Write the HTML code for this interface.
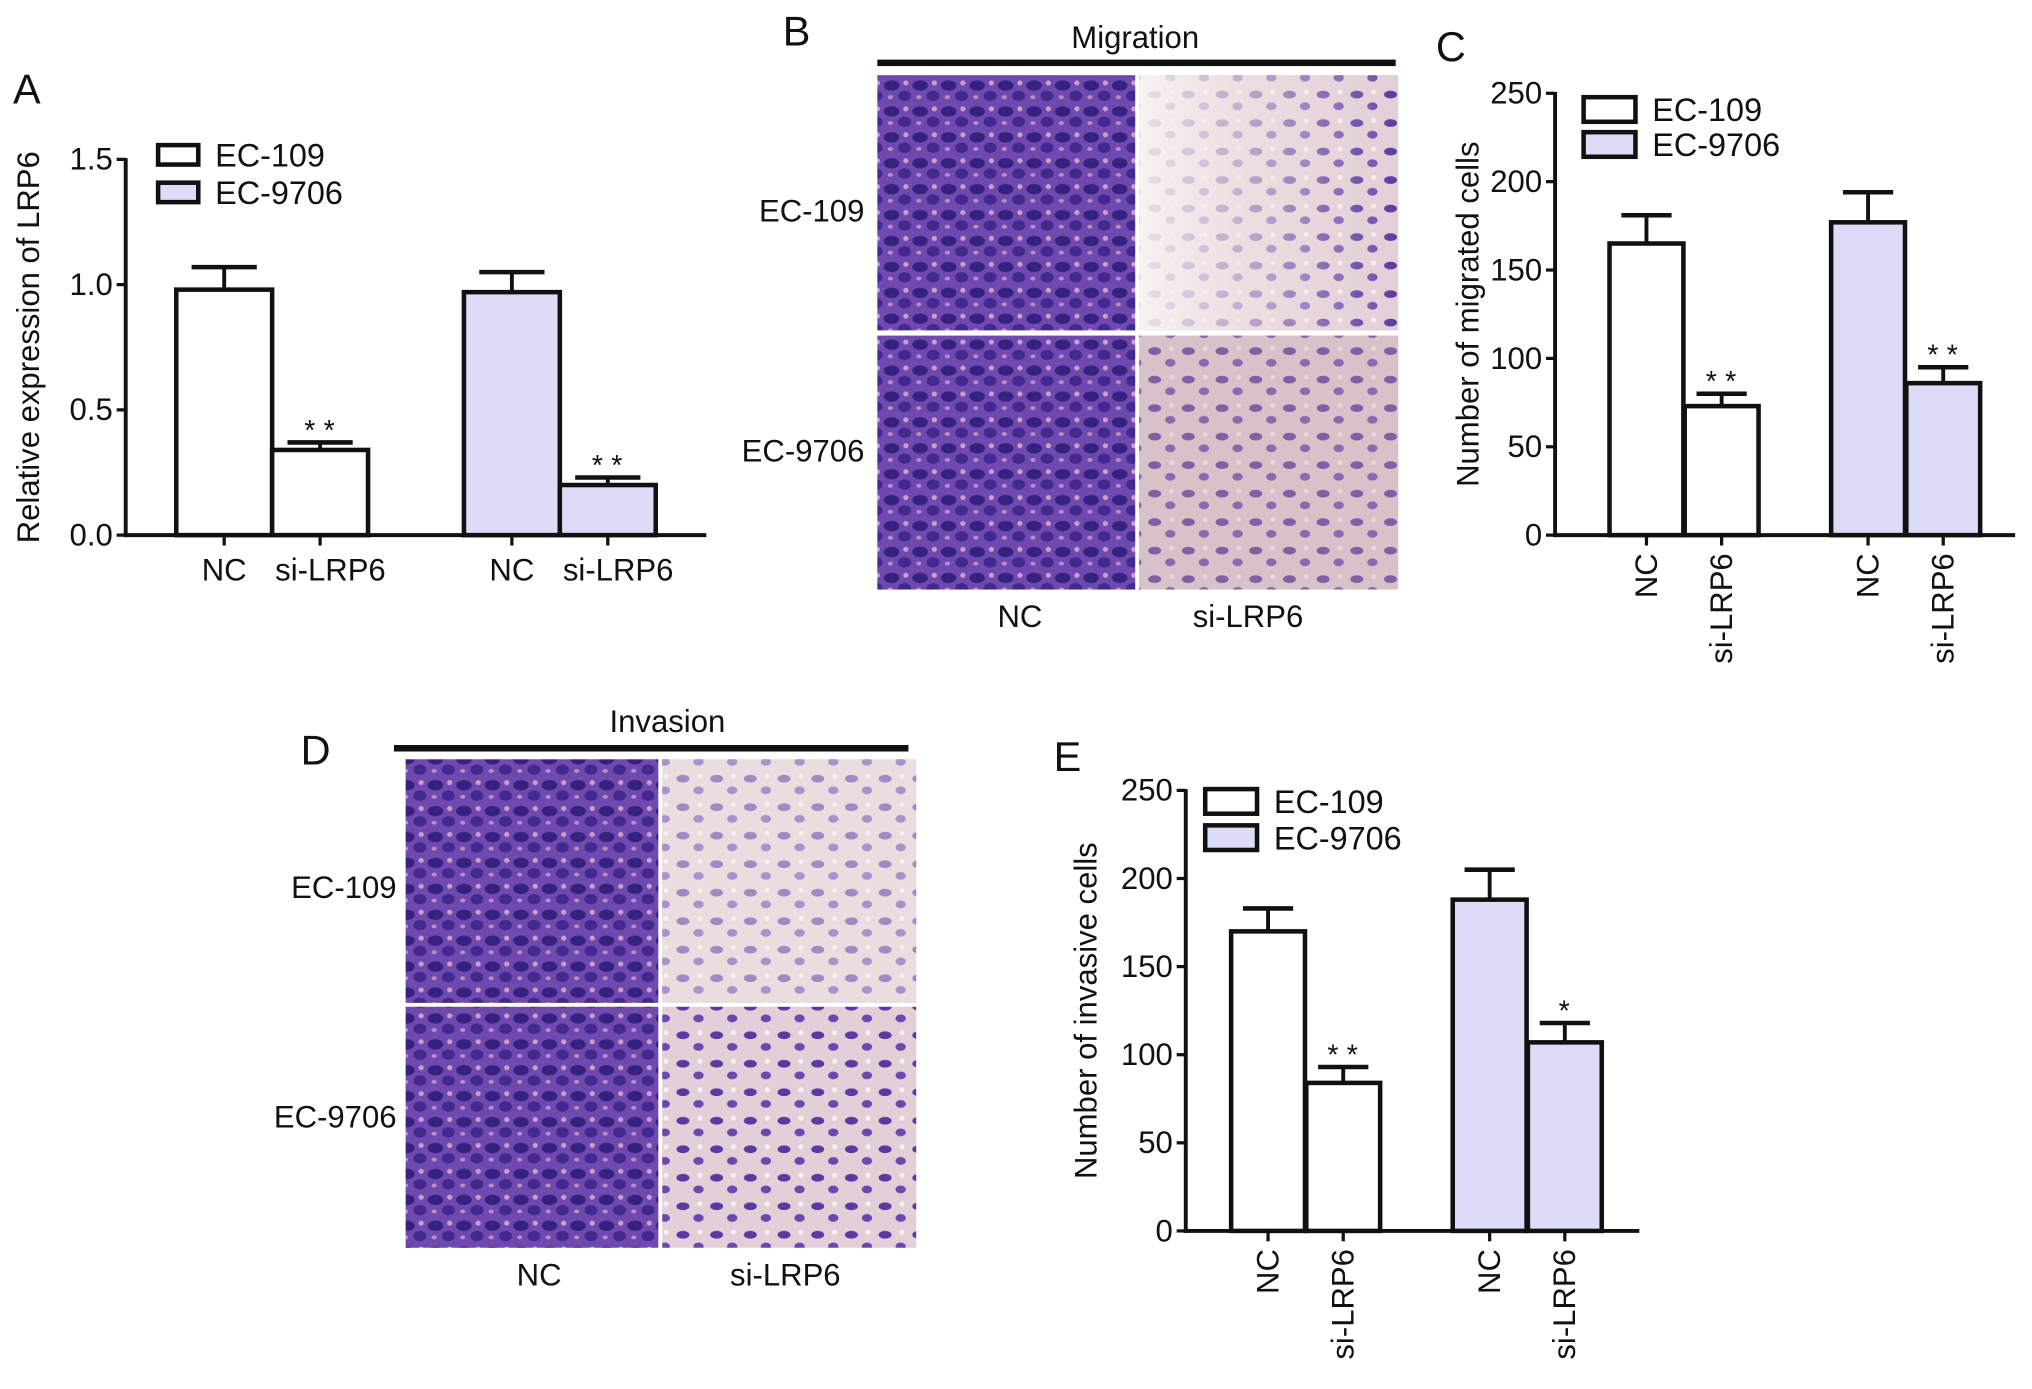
<!DOCTYPE html>
<html><head><meta charset="utf-8"><style>
html,body{margin:0;padding:0;background:#fff}
svg{display:block}
text{font-family:"Liberation Sans",Arial,sans-serif;fill:#111}
</style></head><body>
<svg id="fig" width="2032" height="1389" viewBox="0 0 1568 1072" preserveAspectRatio="none" xmlns="http://www.w3.org/2000/svg">
<defs>
<pattern id="dense" width="22" height="20" patternUnits="userSpaceOnUse">
<rect width="22" height="20" fill="#6f48b0"/>
<ellipse cx="6" cy="6" rx="6" ry="4" fill="#35227e"/>
<ellipse cx="16" cy="14" rx="5" ry="4" fill="#42298e"/>
<ellipse cx="17" cy="4" rx="2" ry="2" fill="#c8a0c8"/>
<ellipse cx="5" cy="15" rx="2" ry="1.5" fill="#b890c0"/>
</pattern>
<pattern id="sparse" width="26" height="22" patternUnits="userSpaceOnUse">
<rect width="26" height="22" fill="#e2cfd8"/>
<ellipse cx="7" cy="7" rx="5" ry="3" fill="#5a3aa0"/>
<ellipse cx="19" cy="16" rx="4" ry="3" fill="#6a48b0"/>
<ellipse cx="20" cy="5" rx="2" ry="2" fill="#f6f0ee"/>
</pattern>
<linearGradient id="migFade" x1="0" x2="1" y1="0" y2="0">
<stop offset="0" stop-color="#fbf6f4" stop-opacity="0.9"/>
<stop offset="0.45" stop-color="#f2e6e4" stop-opacity="0.6"/>
<stop offset="1" stop-color="#f0e0e0" stop-opacity="0"/>
</linearGradient>
</defs>

<text x="10" y="80" font-size="32">A</text>
<text x="604" y="35" font-size="32">B</text>
<text x="1108" y="47" font-size="32">C</text>
<text x="232" y="590" font-size="32">D</text>
<text x="813" y="595" font-size="32">E</text>

<g>
<rect x="677" y="46" width="400" height="5" fill="#111"/>
<text x="876" y="37" font-size="24" text-anchor="middle">Migration</text>
<rect x="677" y="58" width="199" height="197" fill="url(#dense)"/>
<rect x="879" y="58" width="200" height="197" fill="url(#sparse)"/>
<rect x="879" y="58" width="200" height="197" fill="url(#migFade)"/>
<rect x="677" y="259" width="199" height="196" fill="url(#dense)"/>
<rect x="879" y="259" width="200" height="196" fill="url(#sparse)"/>
<rect x="879" y="259" width="200" height="196" fill="#c9a7b0" opacity="0.35"/>
<text x="667" y="171" font-size="24" text-anchor="end">EC-109</text>
<text x="667" y="356" font-size="24" text-anchor="end">EC-9706</text>
<text x="787" y="484" font-size="24" text-anchor="middle">NC</text>
<text x="963" y="484" font-size="24" text-anchor="middle">si-LRP6</text>
</g>

<g>
<rect x="304" y="575" width="397" height="5" fill="#111"/>
<text x="515" y="565" font-size="24" text-anchor="middle">Invasion</text>
<rect x="313" y="586" width="195" height="188" fill="url(#dense)"/>
<rect x="511" y="586" width="196" height="188" fill="url(#sparse)"/>
<rect x="511" y="586" width="196" height="188" fill="#f4eeea" opacity="0.45"/>
<rect x="313" y="777" width="195" height="186" fill="url(#dense)"/>
<rect x="511" y="777" width="196" height="186" fill="url(#sparse)"/>
<text x="306" y="693" font-size="24" text-anchor="end">EC-109</text>
<text x="306" y="870" font-size="24" text-anchor="end">EC-9706</text>
<text x="416" y="992" font-size="24" text-anchor="middle">NC</text>
<text x="606" y="992" font-size="24" text-anchor="middle">si-LRP6</text>
</g>

<g id="chartA"></g>
<g id="chartC"></g>
<g id="chartE"></g>
</svg>
<script>
const categories = ["NC", "si-LRP6", "NC", "si-LRP6"];
const groups = ["EC-109", "EC-109", "EC-9706", "EC-9706"];
const aValues = [0.98, 0.34, 0.97, 0.20];
const aErrors = [0.09, 0.03, 0.08, 0.03];
const aSig = ["", "**", "", "**"];
const aTicks = ["0.0", "0.5", "1.0", "1.5"];
const cValues = [165, 73, 177, 86];
const cErrors = [16, 7, 17, 9];
const cSig = ["", "**", "", "**"];
const cTicks = ["0", "50", "100", "150", "200", "250"];
const eValues = [170, 84, 188, 107];
const eErrors = [13, 9, 17, 11];
const eSig = ["", "**", "", "*"];
const eTicks = ["0", "50", "100", "150", "200", "250"];

const NS = "http://www.w3.org/2000/svg";
function mk(parent, tag, attrs, txt) {
  const e = document.createElementNS(NS, tag);
  for (const k in attrs) e.setAttribute(k, attrs[k]);
  if (txt !== undefined) e.textContent = txt;
  parent.appendChild(e);
  return e;
}
function drawChart(id, cfg) {
  const g = document.getElementById(id);
  const maxV = parseFloat(cfg.ticks[cfg.ticks.length - 1]);
  const y = v => cfg.y0 - (v / maxV) * (cfg.y0 - cfg.y1);
  let ax = mk(g, "line", {x1: cfg.ax, x2: cfg.ax, y1: cfg.y1 - 1, y2: cfg.y0 + 1.5, stroke: "#111", "stroke-width": 3});
  
  
  let xa = mk(g, "line", {x1: cfg.ax - 1.5, x2: cfg.xend, y1: cfg.y0, y2: cfg.y0, stroke: "#111", "stroke-width": 3});
  
  
  cfg.ticks.forEach(t => {
    const yy = y(parseFloat(t));
    mk(g, "line", {x1: cfg.ax - 7, x2: cfg.ax, y1: yy, y2: yy, stroke: "#111", "stroke-width": 2.5});
    const tl = mk(g, "text", {x: cfg.ax - 10, y: yy + 8, "font-size": 24, "text-anchor": "end"}, t);
    
    
  });
  const cy = (cfg.y0 + cfg.y1) / 2 + cfg.titleDy;
  const yt = mk(g, "text", {x: cfg.titleX, y: cy, "font-size": 24, "text-anchor": "middle", transform: `rotate(-90 ${cfg.titleX} ${cy})`}, cfg.title);
  
  
  cfg.values.forEach((v, i) => {
    const x0 = cfg.barX[i], w = cfg.bw, cx = x0 + w / 2;
    const fill = groups[i] === "EC-109" ? "#ffffff" : "#dcdcf8";
    const top = y(v), et = y(v + cfg.errors[i]);
    mk(g, "line", {x1: cx, x2: cx, y1: top, y2: et, stroke: "#111", "stroke-width": 3});
    mk(g, "line", {x1: cx - w * 0.34, x2: cx + w * 0.34, y1: et, y2: et, stroke: "#111", "stroke-width": 3.5});
    const b = mk(g, "rect", {x: x0, y: top, width: w, height: cfg.y0 - top, fill: fill, stroke: "#111", "stroke-width": 3.5});
    
    
    mk(g, "line", {x1: cx, x2: cx, y1: cfg.y0, y2: cfg.y0 + 8, stroke: "#111", "stroke-width": 2.5});
    if (cfg.sig[i]) {
      const s = mk(g, "text", {x: cx, y: et - 2, "font-size": 22, "text-anchor": "middle", "letter-spacing": 1}, cfg.sig[i].split("").join("\u2009"));
      
      
    }
    let lab;
    if (cfg.rotate) {
      const ly = cfg.y0 + 14;
      lab = mk(g, "text", {x: cx, y: ly + 8, "font-size": 24, "text-anchor": "end", transform: `rotate(-90 ${cx} ${ly})`}, categories[i]);
    } else {
      lab = mk(g, "text", {x: cx + (categories[i] === "NC" ? 0 : 8), y: cfg.y0 + 35, "font-size": 24, "text-anchor": "middle"}, categories[i]);
    }
    
    
  });
  const L = cfg.legend;
  ["EC-109", "EC-9706"].forEach((n, k) => {
    const ly = L.y + k * L.dy;
    const r = mk(g, "rect", {x: L.x, y: ly, width: L.w, height: L.h, fill: k ? "#dcdcf8" : "#fff", stroke: "#111", "stroke-width": 3.5});
    
    
    const t = mk(g, "text", {x: L.x + L.w + 13, y: ly + L.h / 2 + 9, "font-size": 25}, n);
    
    
  });
}
drawChart("chartA", {ax: 97, y0: 413, y1: 123, xend: 545, ticks: aTicks, values: aValues, errors: aErrors, sig: aSig,
  barX: [136, 210, 358, 432], bw: 74, title: "Relative expression of LRP6", titleX: 30, titleDy: 0, rotate: false,
  legend: {x: 122, y: 112, w: 31, h: 15, dy: 29}});
drawChart("chartC", {ax: 1200, y0: 413, y1: 72, xend: 1555, ticks: cTicks, values: cValues, errors: cErrors, sig: cSig,
  barX: [1242, 1300, 1413, 1471], bw: 57, title: "Number of migrated cells", titleX: 1141, titleDy: 0, rotate: true,
  legend: {x: 1222, y: 75, w: 40, h: 19, dy: 27}});
drawChart("chartE", {ax: 915, y0: 950, y1: 610, xend: 1265, ticks: eTicks, values: eValues, errors: eErrors, sig: eSig,
  barX: [950, 1008, 1121, 1179], bw: 57, title: "Number of invasive cells", titleX: 846, titleDy: 0, rotate: true,
  legend: {x: 930, y: 609, w: 40, h: 19, dy: 28}});
</script>
</body></html>
